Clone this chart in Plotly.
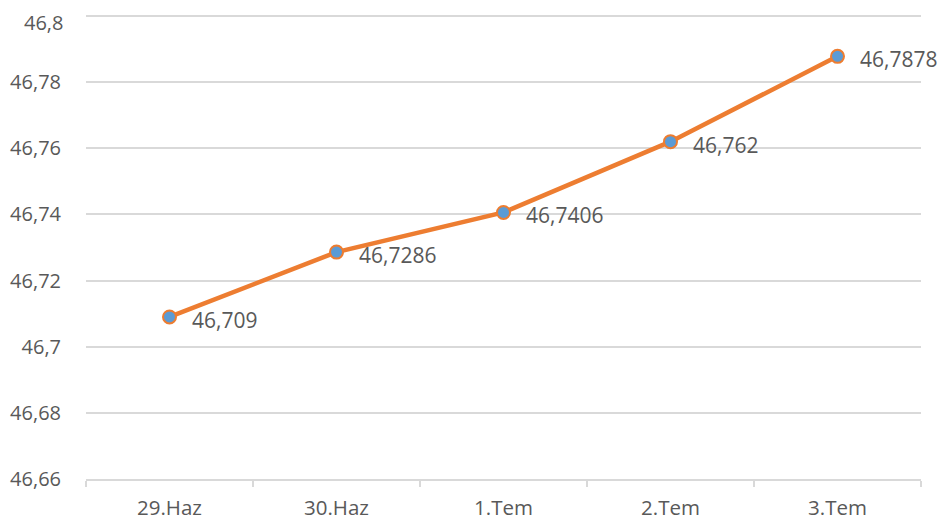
import plotly.graph_objects as go

categories = ["29.Haz", "30.Haz", "1.Tem", "2.Tem", "3.Tem"]
values = [46.709, 46.7286, 46.7406, 46.762, 46.7878]
y_tick_vals = [46.66, 46.68, 46.70, 46.72, 46.74, 46.76, 46.78, 46.80]
y_tick_text = ["46,66", "46,68", "46,7", "46,72", "46,74", "46,76", "46,78", "46,8"]

labels = [("%g" % v).replace(".", ",") for v in values]

fig = go.Figure()
fig.add_trace(go.Scatter(
    x=categories, y=values,
    mode="lines+markers",
    line=dict(color="#ED7D31", width=4.5),
    marker=dict(color="#5B9BD5", size=13, line=dict(color="#ED7D31", width=2)),
    cliponaxis=False,
    hoverinfo="skip",
))

for c, v, t in zip(categories, values, labels):
    fig.add_annotation(
        x=c, y=v, text=t, showarrow=False,
        xanchor="left", yanchor="middle", xshift=20, yshift=-3,
        font=dict(family="Open Sans", size=21, color="#595959"),
    )

# top tick label (plotly hides it at the figure edge), drawn as annotation
fig.add_annotation(
    xref="paper", x=0, yref="y", y=y_tick_vals[-1], text=y_tick_text[-1],
    showarrow=False, xanchor="right", yanchor="top", xshift=-22, yshift=8,
    borderpad=0,
    font=dict(family="Open Sans", size=20, color="#595959"),
)
axis_text = y_tick_text[:-1] + [""]

fig.update_layout(
    width=945, height=527,
    margin=dict(l=78, r=32, t=6, b=56),
    plot_bgcolor="white", paper_bgcolor="white",
    showlegend=False,
    font=dict(family="Open Sans", size=20, color="#595959"),
)
fig.update_xaxes(
    type="category", range=[-0.5, 4.5], automargin=False,
    showgrid=False, showline=True, linecolor="#D9D9D9", linewidth=1.5,
    ticks="outside", ticklen=6, tickcolor="#D9D9D9", tickwidth=1.5,
    tickson="boundaries", ticklabelstandoff=10,
    tickfont=dict(family="Open Sans", size=20.5, color="#595959"),
)
fig.update_yaxes(
    range=[46.66, 46.8006], tickvals=y_tick_vals, ticktext=axis_text,
    automargin=False,
    showgrid=True, gridcolor="#D9D9D9", gridwidth=1.5,
    zeroline=False, showline=False, ticks="", ticklabelstandoff=24,
    tickfont=dict(family="Open Sans", size=20, color="#595959"),
)

fig.write_html("out.html")
